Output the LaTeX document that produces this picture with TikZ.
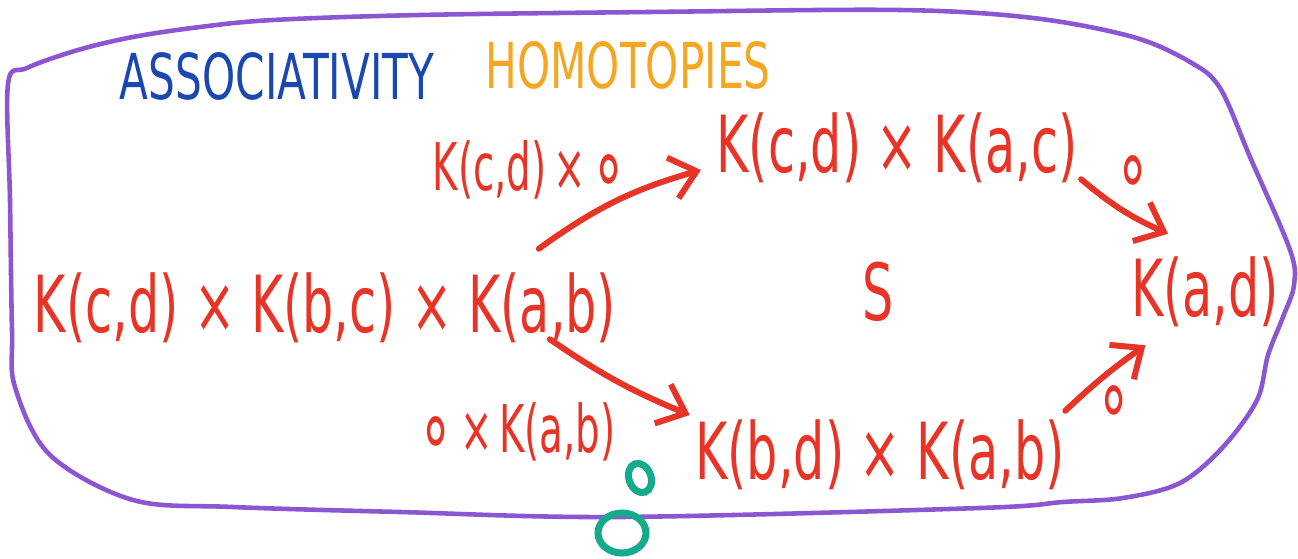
\documentclass[tikz,border=0pt]{standalone}
\usepackage{fontspec}
\setmainfont{DejaVu Sans}
\usetikzlibrary{arrows.meta,calc}
\definecolor{kred}{RGB}{232,52,38}
\definecolor{kblue}{RGB}{24,72,176}
\definecolor{korange}{RGB}{245,166,35}
\definecolor{kpurple}{RGB}{140,85,210}
\definecolor{kgreen}{RGB}{22,170,140}
\newcommand{\cmp}{\raisebox{-1.5pt}{\fontsize{16}{16}\selectfont ∘}}
\tikzset{
  hand/.style={text=kred,inner sep=0pt,transform shape,yscale=1.6,
    font=\fontsize{14}{16}\selectfont},
  handsm/.style={text=kred,inner sep=0pt,transform shape,yscale=1.7,
    font=\fontsize{11}{13}\selectfont},
  title/.style={inner sep=0pt,transform shape,yscale=1.5,
    font=\fontsize{12}{14}\selectfont},
  arr/.style={-{Straight Barb[length=7pt,width=12pt]},line width=1.7pt,
    draw=kred,line cap=round}
}

\begin{document}
\begin{tikzpicture}[x=0.01cm,y=-0.01cm]
  \useasboundingbox (0,0) rectangle (1298,558);

  % the blob
  \draw[kpurple,line width=1.3pt] plot[smooth cycle,tension=0.55] coordinates {
    (8,84) (27,68) (78,50) (133,37) (200,27) (273,20) (420,15) (650,12)
    (900,10) (1033,18) (1133,37) (1190,62) (1220,88) (1250,157) (1290,250)
    (1294,285) (1283,317) (1268,355) (1257,400) (1223,447) (1180,483)
    (1123,498) (1063,502) (980,508) (620,517) (400,512) (233,507) (133,500)
    (50,455) (15,387) (12,330) (10,200)};

  \node[title,text=kblue] (assoc) at (277,76) {ASSOCIATIVITY};
  \node[title,text=korange] (homot) at (628,65) {HOMOTOPIES};

  \node[hand] (main) at (325,308) {K(c,d) × K(b,c) × K(a,b)};
  \node[hand] (top) at (897,148) {K(c,d) × K(a,c)};
  \node[hand] (bot) at (880,455) {K(b,d) × K(a,b)};
  \node[hand] (tgt) at (1205,292) {K(a,d)};

  \node[handsm] (l1) at (530,170) {K(c,d)\,×\,\cmp};
  \node[handsm] (l2) at (517,432) {\cmp\,×\,K(a,b)};
  \node[handsm] (o1) at (1133,178) {\cmp};
  \node[handsm] (o2) at (1114,408) {\cmp};
  \node[hand] (s) at (878,292) {S};

  \draw[arr] ($(main.north east)+(-78,-23)$) to[bend left=10] ($(top.west)+(-15,22)$);
  \draw[arr] ($(main.south east)+(-67,-5)$) to[bend right=6] ($(bot.west)+(-5,-40)$);
  \draw[arr] ($(top.south east)+(3,-5)$) to[bend right=8] ($(tgt.north)+(-37,-22)$);
  \draw[arr] ($(bot.north east)+(0,-8)$) to[bend left=4] ($(tgt.south west)+(15,17)$);

  % green marks
  \draw[kgreen,line width=2pt] (640,478) ellipse[x radius=11,y radius=15,rotate=20];
  \draw[kgreen,line width=2pt] (622,533) ellipse[x radius=24,y radius=20];

\end{tikzpicture}
\end{document}
